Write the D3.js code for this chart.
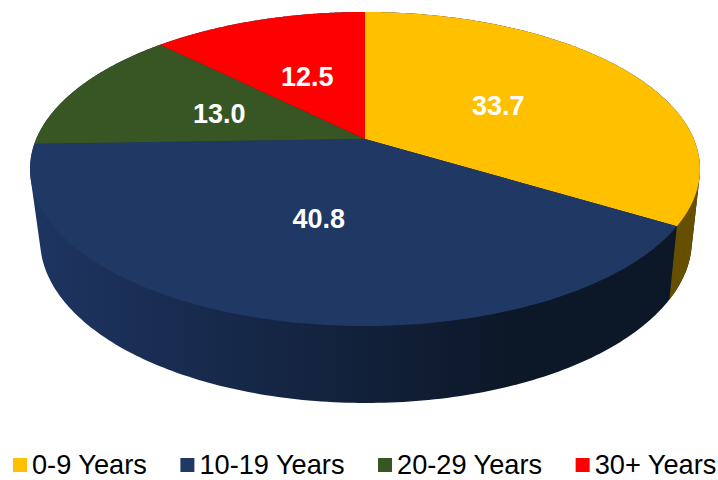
<!DOCTYPE html>
<html><head><meta charset="utf-8">
<script src="https://cdn.jsdelivr.net/npm/d3@7"></script>
<style>html,body{margin:0;padding:0;background:#fff}svg{display:block}text{font-family:"Liberation Sans",Arial,sans-serif}</style>
</head><body><div id="chart"></div>
<script>
const categories = ["0-9 Years","10-19 Years","20-29 Years","30+ Years"];
const values = [33.7,40.8,13.0,12.5];
const colors = ["#FFC000","#1F3864","#375623","#FF0000"];
const wallLeft = "#1E3562";
const wallRight = "#0C1727";
const wallYellow = "#665000";

const W=718,H=480, cx=365, cy=139, R=328.8, Ry=151.3, k=0.191;
const midY=169, botX=366, botY=240, botSX=0.973, botSY=1.038;

const svg=d3.select("#chart").append("svg").attr("width",W).attr("height",H);
const defs=svg.append("defs");
const pie=d3.pie().sort(null).value(d=>d);
const arcs=pie(values);

function topPt(a,r=1){
  const u=r*Math.sin(a), v=-r*Math.cos(a), w=1-k*v;
  return [cx+R*u/w, cy+Ry*v/w];
}
function bottomPt(a){
  const [x,y]=topPt(a);
  return [botX+(x-cx)*botSX, botY+(y-midY)*botSY];
}
const line=d3.line();
const steps=a=>d3.range(0,161).map(i=>a.startAngle+(a.endAngle-a.startAngle)*i/160);

// outer wall: hull of the whole rim and its lower copy
const g=defs.append("linearGradient").attr("id","wallBlue").attr("gradientUnits","userSpaceOnUse")
  .attr("x1",29).attr("x2",699).attr("y1",0).attr("y2",0);
g.append("stop").attr("offset",0).attr("stop-color",wallLeft);
g.append("stop").attr("offset",0.73).attr("stop-color",wallRight);
const allAngles=arcs.flatMap(steps);
const hull=d3.polygonHull(allAngles.flatMap(t=>[topPt(t),bottomPt(t)]));
svg.append("path").attr("d",line(hull)+"Z").attr("fill","url(#wallBlue)");

// first slice's visible wall: from its rightmost rim point to its end
const firstAngles=steps(arcs[0]);
const rightmost=d3.greatest(firstAngles,t=>topPt(t)[0]);
const frontAngles=firstAngles.filter(t=>t>=rightmost);
const yHull=d3.polygonHull(frontAngles.flatMap(t=>[topPt(t),bottomPt(t)]));
svg.append("path").attr("d",line(yHull)+"Z").attr("fill",wallYellow);

// top faces
arcs.forEach((a,i)=>{
  const pts=[[cx,cy]].concat(steps(a).map(t=>topPt(t)));
  svg.append("path").attr("d",line(pts)+"Z").attr("fill",colors[i]);
});

// value labels
arcs.forEach(a=>{
  const [x,y]=topPt((a.startAngle+a.endAngle)/2,0.49);
  svg.append("text").attr("x",x-1).attr("y",y+10.5).attr("text-anchor","middle")
    .attr("fill","#fff").attr("font-weight","bold").attr("font-size",27).text(a.data.toFixed(1));
});

// legend
let lx=13;
categories.forEach((c,i)=>{
  svg.append("rect").attr("x",lx).attr("y",458).attr("width",14).attr("height",14).attr("fill",colors[i]);
  const t=svg.append("text").attr("x",lx+19).attr("y",473.5).attr("font-size",27.2).attr("fill","#000").text(c);
  lx+=19+t.node().getComputedTextLength()+33.5;
});
</script></body></html>
